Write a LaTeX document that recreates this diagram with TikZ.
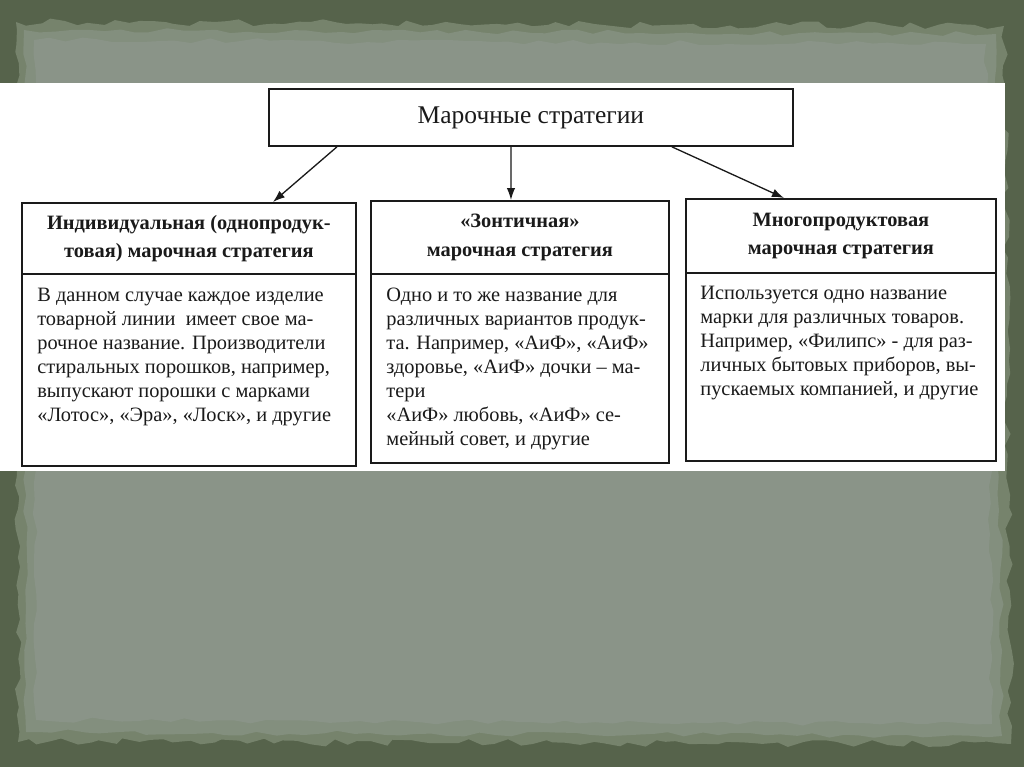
\documentclass[tikz,border=0pt]{standalone}
\usepackage{fontspec}
\setmainfont{Liberation Serif}
\usetikzlibrary{arrows.meta,decorations.pathmorphing}
\definecolor{bgdark}{HTML}{56634B}
\definecolor{paper}{HTML}{8A9488}
\definecolor{papermid}{HTML}{838F7E}
\definecolor{paperedge}{HTML}{76836C}
\definecolor{ink}{HTML}{1A1A1A}
\begin{document}
\begin{tikzpicture}[x=0.02cm,y=-0.02cm,
  box/.style={draw=ink, line width=1.05pt, fill=white, inner sep=0pt, anchor=north west},
  hbox/.style={box, font=\fontsize{11.6}{16}\selectfont\bfseries, align=center, text=ink},
  body/.style={font=\fontsize{11.6}{13.6}\selectfont, align=left, anchor=north west, inner sep=0pt, text=ink},
  arr/.style={draw=ink, line width=0.75pt, -{Latex[length=0.24cm,width=0.17cm]}},
  torn/.style={decorate, decoration={random steps, segment length=7pt, amplitude=2.2pt}},
  tornsoft/.style={decorate, decoration={random steps, segment length=9pt, amplitude=1.5pt}}
]
\useasboundingbox (0,0) rectangle (1024,767);
% background and torn paper
\fill[bgdark] (0,0) rectangle (1024,767);
\fill[paperedge, torn] (16,22) -- (1004,26) -- (1011,744) -- (18,742) -- cycle;
\fill[papermid, tornsoft] (24,30) -- (996,34) -- (1002,736) -- (26,732) -- cycle;
\fill[paper, tornsoft] (34,40) -- (986,44) -- (992,724) -- (36,720) -- cycle;
\fill[white] (0,83) rectangle (1005,471);

% top box
\node[box, minimum width=10.48cm, minimum height=1.14cm,
      font=\fontsize{14.5}{17}\selectfont, text=ink] (top) at (268,88) {Марочные стратегии};

% headers
\node[hbox, minimum width=6.68cm, minimum height=1.42cm] (h1) at (21,202)
  {Индивидуальная (однопродук-\\товая) марочная стратегия};
\node[hbox, minimum width=5.96cm, minimum height=1.46cm] (h2) at (370,200)
  {«Зонтичная»\\марочная стратегия};
\node[hbox, minimum width=6.20cm, minimum height=1.48cm] (h3) at (685,198)
  {Многопродуктовая\\марочная стратегия};

% bodies
\node[box, minimum width=6.68cm, minimum height=3.84cm] (b1) at (21,273) {};
\node[box, minimum width=5.96cm, minimum height=3.78cm] (b2) at (370,273) {};
\node[box, minimum width=6.20cm, minimum height=3.76cm] (b3) at (685,272) {};

\node[body] (t1) at (37,288) {В данном случае каждое изделие\\
товарной линии\ \ имеет свое ма-\\
рочное название. Производители\\
стиральных порошков, например,\\
выпускают порошки с марками\\
«Лотос», «Эра», «Лоск», и другие};

\node[body] (t2) at (386,288) {Одно и то же название для\\
различных вариантов продук-\\
та. Например, «АиФ», «АиФ»\\
здоровье, «АиФ» дочки – ма-\\
тери\\
«АиФ» любовь, «АиФ» се-\\
мейный совет, и другие};

\node[body] (t3) at (700,286) {Используется одно название\\
марки для различных товаров.\\
Например, «Филипс» - для раз-\\
личных бытовых приборов, вы-\\
пускаемых компанией, и другие};

% arrows
\draw[arr] ([xshift=1.38cm]top.south west) -- ([xshift=5.04cm]h1.north west);
\draw[arr] ([xshift=4.86cm]top.south west) -- ([xshift=2.82cm]h2.north west);
\draw[arr] ([xshift=8.08cm]top.south west) -- ([xshift=1.98cm]h3.north west);
\end{tikzpicture}
\end{document}
